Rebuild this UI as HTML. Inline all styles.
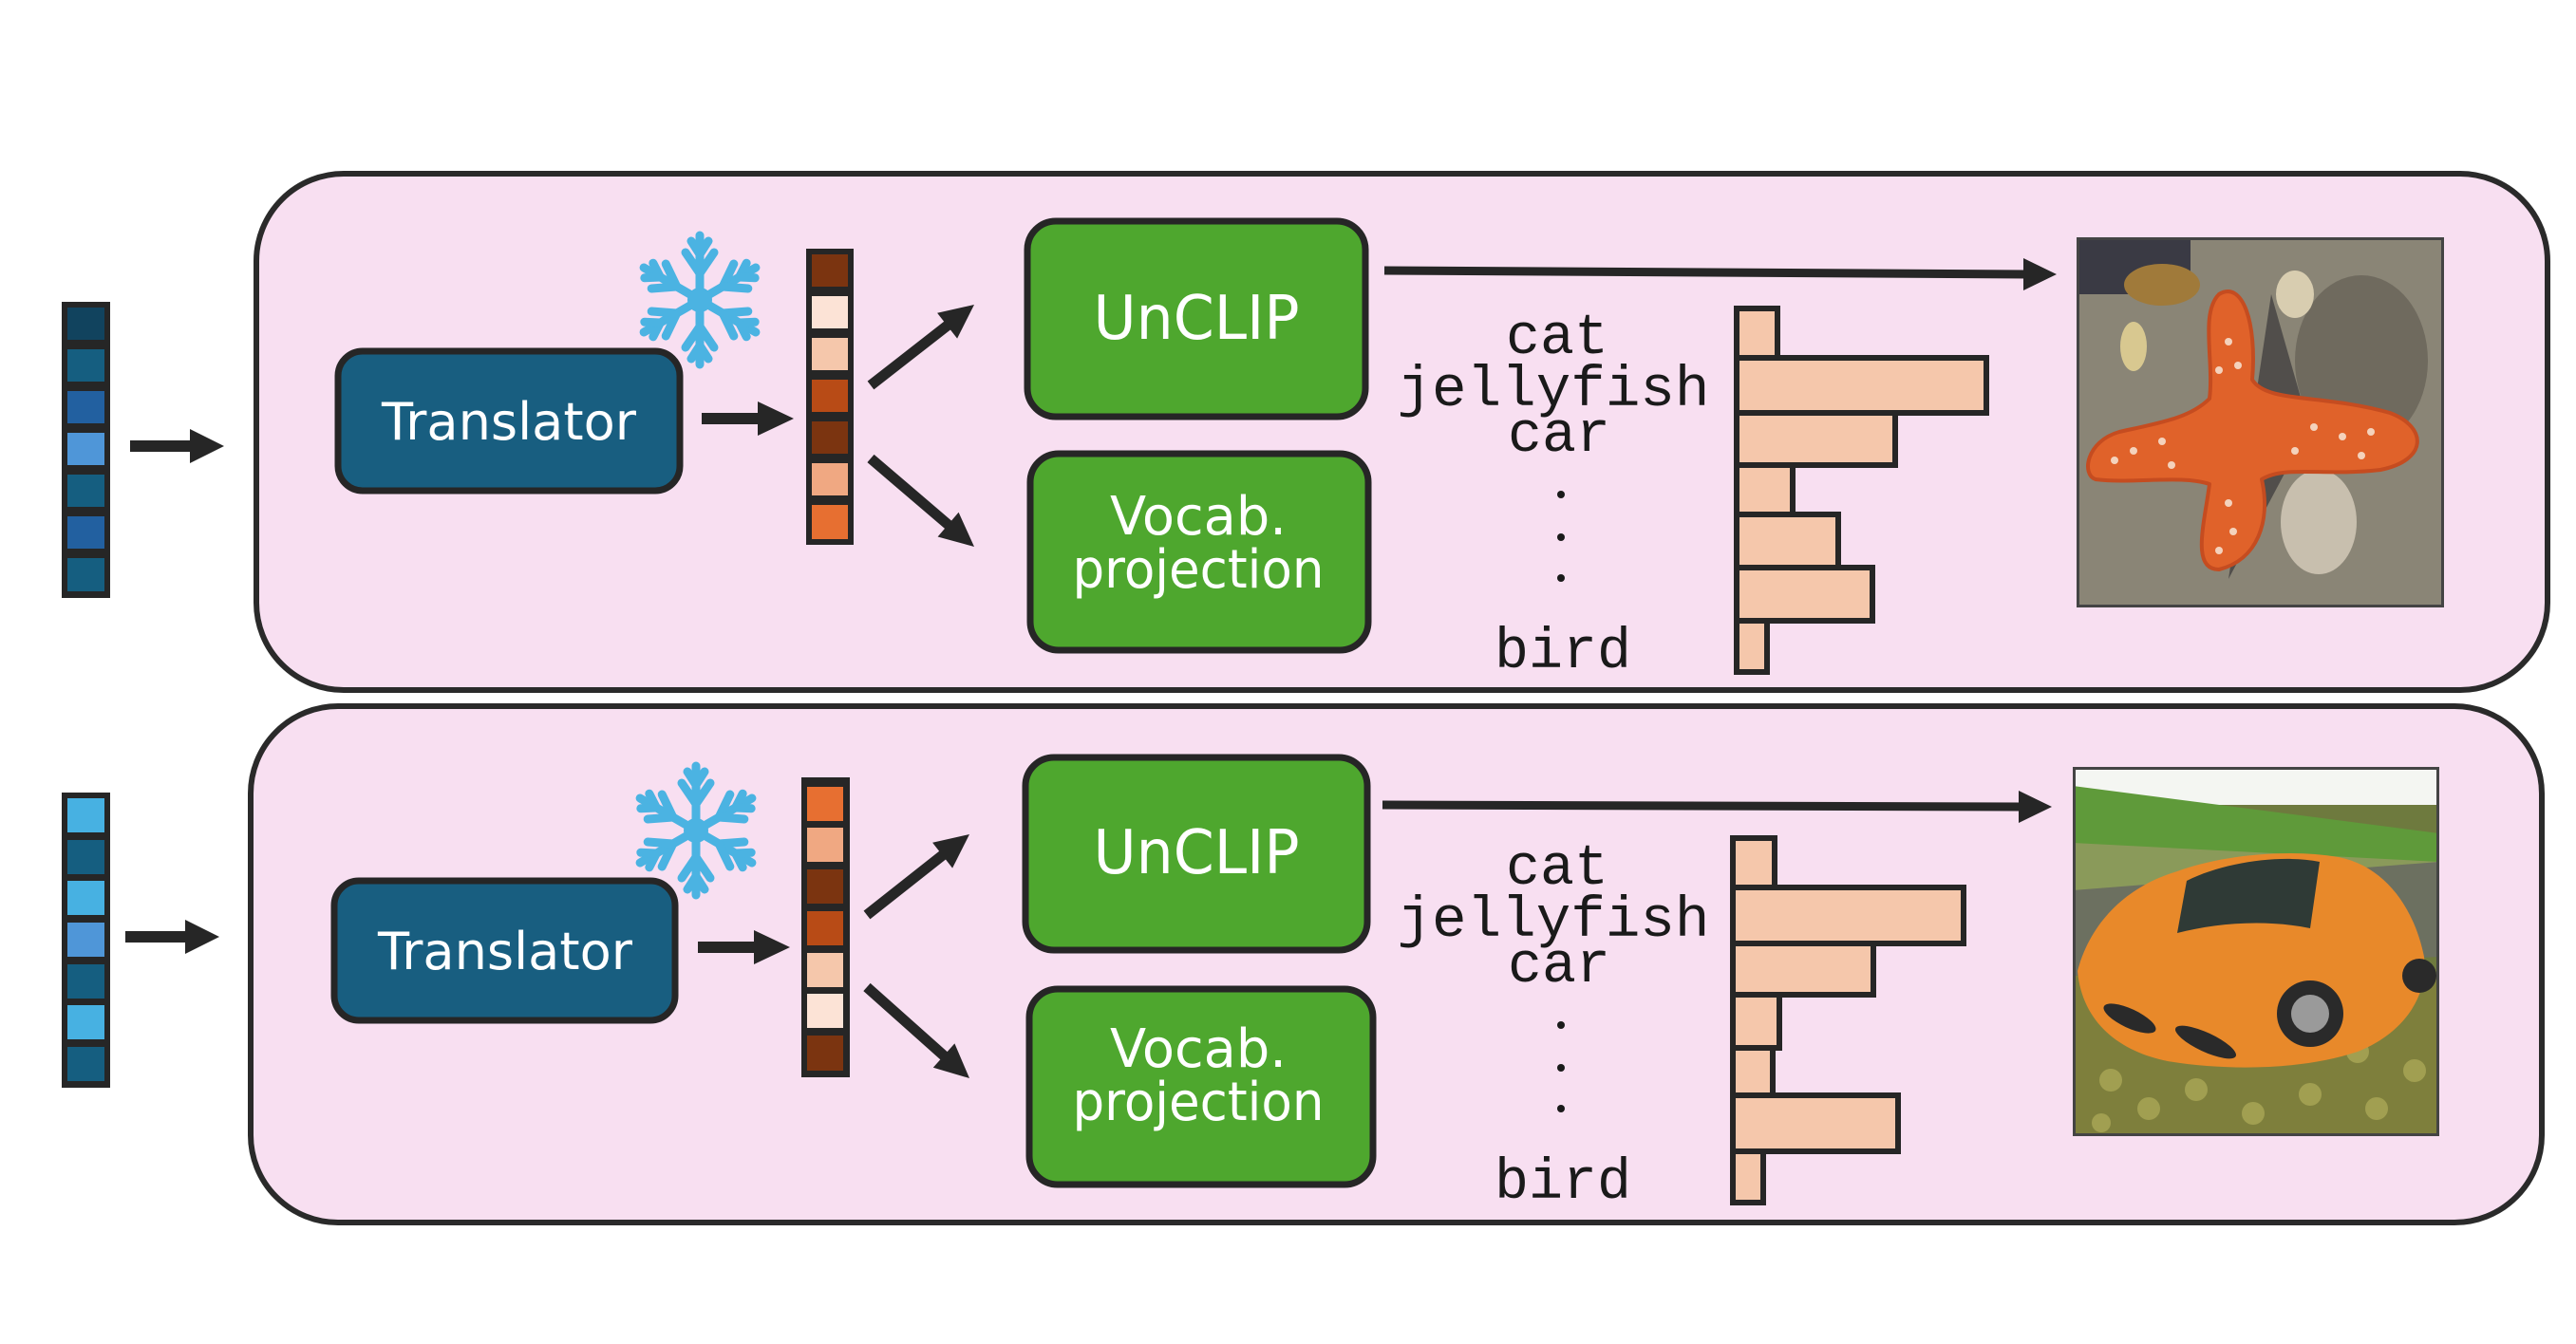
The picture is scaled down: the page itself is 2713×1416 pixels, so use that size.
<!DOCTYPE html>
<html><head><meta charset="utf-8"><style>
html,body{margin:0;padding:0;background:#fff;}
svg{display:block;}
.hw{font-family:"DejaVu Sans","Liberation Sans",sans-serif;fill:#fff;}
.mono{font-family:"Liberation Mono",monospace;fill:#1a1a1a;font-size:60px;}
</style></head><body>
<svg width="2713" height="1416" viewBox="0 0 2713 1416" xmlns="http://www.w3.org/2000/svg">
<defs>
<g id="snow" stroke="#4bb3e2" stroke-width="9" stroke-linecap="round" fill="none">
<g id="arm"><line x1="0" y1="0" x2="0" y2="-68"/><line x1="0" y1="-28" x2="-15" y2="-50"/><line x1="0" y1="-28" x2="15" y2="-50"/><line x1="0" y1="-48" x2="-9" y2="-62"/><line x1="0" y1="-48" x2="9" y2="-62"/></g>
<use href="#arm" transform="rotate(60)"/><use href="#arm" transform="rotate(120)"/><use href="#arm" transform="rotate(180)"/><use href="#arm" transform="rotate(240)"/><use href="#arm" transform="rotate(300)"/>
<circle r="13" fill="#4bb3e2" stroke="none"/>
</g>
</defs>

<rect x="270" y="183" width="2413" height="544" rx="92" fill="#f8dff1" stroke="#2a2a2a" stroke-width="6"/>
<rect x="264" y="744" width="2413" height="544" rx="92" fill="#f8dff1" stroke="#2a2a2a" stroke-width="6"/>

<g fill="#262626">
<!-- horizontal arrows -->
<rect x="137" y="464" width="70" height="12"/><polygon points="200,452 236,470 200,488"/>
<rect x="739" y="435" width="64" height="12"/><polygon points="798,423 836,441 798,459"/>
<rect x="132" y="981" width="70" height="12"/><polygon points="195,969 231,987 195,1005"/>
<rect x="735" y="992" width="64" height="12"/><polygon points="794,980 832,998 794,1016"/>
<!-- diagonals -->
<polygon points="1026,321 1008.1,356.6 987.1,329.8"/>
<polygon points="1026,576 987.6,565.5 1009.6,539.7"/>
<polygon points="1021,879 1003.1,914.6 982.1,887.8"/>
<polygon points="1021,1136 982.8,1124.8 1005.4,1099.4"/>
<!-- long -->
<polygon points="2131,272 2166,289 2131,306"/>
<polygon points="2126,833 2161,850 2126,867"/>
</g>
<g stroke="#262626" stroke-width="11">
<line x1="917" y1="406" x2="999" y2="342"/>
<line x1="917" y1="483" x2="1000" y2="554"/>
<line x1="913" y1="964" x2="994" y2="900"/>
<line x1="913" y1="1040" x2="996" y2="1114"/>
</g>
<g stroke="#262626" stroke-width="9">
<line x1="1458" y1="285" x2="2135" y2="289"/>
<line x1="1456" y1="848" x2="2130" y2="850"/>
</g>

<!-- ===== TOP ===== -->
<rect x="65" y="318" width="51" height="312" fill="#262626"/>
<rect x="71" y="324" width="39" height="34" fill="#11435e"/>
<rect x="71" y="368" width="39" height="34" fill="#155e80"/>
<rect x="71" y="412" width="39" height="34" fill="#2260a0"/>
<rect x="71" y="456" width="39" height="34" fill="#4f96d8"/>
<rect x="71" y="500" width="39" height="34" fill="#155e80"/>
<rect x="71" y="544" width="39" height="34" fill="#2260a0"/>
<rect x="71" y="588" width="39" height="35" fill="#155e80"/>

<rect x="356" y="370" width="360" height="147" rx="26" fill="#185e80" stroke="#262626" stroke-width="7"/>
<text class="hw" x="536" y="463" font-size="54" text-anchor="middle" textLength="268" lengthAdjust="spacingAndGlyphs">Translator</text>
<use href="#snow" transform="translate(737,316)"/>

<rect x="849" y="262" width="50" height="312" fill="#262626"/>
<rect x="855" y="268" width="38" height="34" fill="#7b3410"/>
<rect x="855" y="312" width="38" height="34" fill="#fce3d6"/>
<rect x="855" y="356" width="38" height="34" fill="#f5c7ab"/>
<rect x="855" y="400" width="38" height="34" fill="#b84b16"/>
<rect x="855" y="444" width="38" height="34" fill="#7b3410"/>
<rect x="855" y="488" width="38" height="34" fill="#f0a882"/>
<rect x="855" y="532" width="38" height="36" fill="#e76f31"/>

<rect x="1082" y="233" width="356" height="206" rx="30" fill="#4ea72e" stroke="#262626" stroke-width="7"/>
<text class="hw" x="1260" y="357" font-size="64" text-anchor="middle" textLength="217" lengthAdjust="spacingAndGlyphs">UnCLIP</text>
<rect x="1085" y="478" width="356" height="207" rx="30" fill="#4ea72e" stroke="#262626" stroke-width="7"/>
<text class="hw" x="1262" y="563" font-size="56" text-anchor="middle" textLength="186" lengthAdjust="spacingAndGlyphs">Vocab.</text>
<text class="hw" x="1262" y="619" font-size="56" text-anchor="middle" textLength="265" lengthAdjust="spacingAndGlyphs">projection</text>

<text class="mono" x="1640" y="372" text-anchor="middle">cat</text>
<text class="mono" x="1636" y="427" text-anchor="middle" textLength="329" lengthAdjust="spacingAndGlyphs">jellyfish</text>
<text class="mono" x="1642" y="475" text-anchor="middle">car</text>
<circle cx="1644" cy="521" r="4" fill="#1a1a1a"/><circle cx="1644" cy="566" r="4" fill="#1a1a1a"/><circle cx="1644" cy="609" r="4" fill="#1a1a1a"/>
<text class="mono" x="1646" y="703" text-anchor="middle">bird</text>

<g fill="#f5c7ab" stroke="#262626" stroke-width="6">
<rect x="1829" y="325" width="43" height="52"/>
<rect x="1829" y="377" width="263" height="58"/>
<rect x="1829" y="435" width="167" height="55"/>
<rect x="1829" y="490" width="59" height="52"/>
<rect x="1829" y="542" width="107" height="56"/>
<rect x="1829" y="598" width="143" height="56"/>
<rect x="1829" y="654" width="32" height="54"/>
</g>

<svg x="2187" y="250" width="387" height="390" viewBox="0 0 387 390">
<rect width="387" height="390" fill="#8a8576"/>
<rect x="0" y="0" width="120" height="60" fill="#3a3a44"/>
<ellipse cx="90" cy="50" rx="40" ry="22" fill="#a07a3a"/>
<ellipse cx="300" cy="130" rx="70" ry="90" fill="#6f6a5e"/>
<ellipse cx="230" cy="60" rx="20" ry="25" fill="#d8cdb0"/>
<ellipse cx="60" cy="115" rx="14" ry="26" fill="#d8c890"/>
<ellipse cx="255" cy="300" rx="40" ry="55" fill="#c8bfae"/>
<path d="M205,60 L245,200 L160,360 Z" fill="#2c2a2e" opacity="0.6"/>
<g fill="#e0622a" stroke="#c54c20" stroke-width="4" stroke-linejoin="round">
<path d="M150,60 C175,45 190,90 185,150 C200,175 260,165 330,185 C370,200 370,235 320,245 C260,252 220,240 195,255 C205,300 190,340 150,350 C120,350 135,300 140,260 C110,250 60,260 20,255 C5,250 10,215 45,205 C90,195 120,190 140,170 C145,130 130,80 150,60 Z"/>
</g>
<g fill="#f8e6d6" opacity="0.85">
<circle cx="160" cy="110" r="4"/><circle cx="170" cy="135" r="4"/><circle cx="150" cy="140" r="4"/><circle cx="250" cy="200" r="4"/><circle cx="280" cy="210" r="4"/><circle cx="310" cy="205" r="4"/><circle cx="300" cy="230" r="4"/><circle cx="60" cy="225" r="4"/><circle cx="90" cy="215" r="4"/><circle cx="100" cy="240" r="4"/><circle cx="160" cy="280" r="4"/><circle cx="165" cy="310" r="4"/><circle cx="150" cy="330" r="4"/><circle cx="40" cy="235" r="4"/><circle cx="230" cy="225" r="4"/>
</g>
<rect x="1.5" y="1.5" width="384" height="387" fill="none" stroke="#444" stroke-width="3"/>
</svg>

<!-- ===== BOTTOM ===== -->
<rect x="65" y="835" width="51" height="311" fill="#262626"/>
<rect x="71" y="841" width="39" height="36" fill="#47b1e2"/>
<rect x="71" y="885" width="39" height="36" fill="#155e80"/>
<rect x="71" y="928" width="39" height="36" fill="#47b1e2"/>
<rect x="71" y="972" width="39" height="36" fill="#4f96d8"/>
<rect x="71" y="1016" width="39" height="36" fill="#155e80"/>
<rect x="71" y="1059" width="39" height="36" fill="#47b1e2"/>
<rect x="71" y="1103" width="39" height="36" fill="#155e80"/>

<rect x="352" y="928" width="359" height="147" rx="26" fill="#185e80" stroke="#262626" stroke-width="7"/>
<text class="hw" x="532" y="1021" font-size="54" text-anchor="middle" textLength="268" lengthAdjust="spacingAndGlyphs">Translator</text>
<use href="#snow" transform="translate(733,875)"/>

<rect x="844" y="819" width="51" height="316" fill="#262626"/>
<rect x="850" y="829" width="38" height="36" fill="#e76f31"/>
<rect x="850" y="872" width="38" height="36" fill="#f0a882"/>
<rect x="850" y="916" width="38" height="36" fill="#7b3410"/>
<rect x="850" y="960" width="38" height="36" fill="#b84b16"/>
<rect x="850" y="1004" width="38" height="36" fill="#f5c7ab"/>
<rect x="850" y="1047" width="38" height="36" fill="#fce3d6"/>
<rect x="850" y="1091" width="38" height="37" fill="#7b3410"/>

<rect x="1080" y="798" width="360" height="203" rx="30" fill="#4ea72e" stroke="#262626" stroke-width="7"/>
<text class="hw" x="1260" y="920" font-size="64" text-anchor="middle" textLength="217" lengthAdjust="spacingAndGlyphs">UnCLIP</text>
<rect x="1084" y="1042" width="362" height="206" rx="30" fill="#4ea72e" stroke="#262626" stroke-width="7"/>
<text class="hw" x="1262" y="1124" font-size="56" text-anchor="middle" textLength="186" lengthAdjust="spacingAndGlyphs">Vocab.</text>
<text class="hw" x="1262" y="1180" font-size="56" text-anchor="middle" textLength="265" lengthAdjust="spacingAndGlyphs">projection</text>

<text class="mono" x="1640" y="931" text-anchor="middle">cat</text>
<text class="mono" x="1636" y="986" text-anchor="middle" textLength="329" lengthAdjust="spacingAndGlyphs">jellyfish</text>
<text class="mono" x="1642" y="1034" text-anchor="middle">car</text>
<circle cx="1644" cy="1080" r="4" fill="#1a1a1a"/><circle cx="1644" cy="1125" r="4" fill="#1a1a1a"/><circle cx="1644" cy="1168" r="4" fill="#1a1a1a"/>
<text class="mono" x="1646" y="1262" text-anchor="middle">bird</text>

<g fill="#f5c7ab" stroke="#262626" stroke-width="6">
<rect x="1825" y="883" width="44" height="52"/>
<rect x="1825" y="935" width="243" height="59"/>
<rect x="1825" y="994" width="148" height="54"/>
<rect x="1825" y="1048" width="49" height="56"/>
<rect x="1825" y="1104" width="42" height="50"/>
<rect x="1825" y="1154" width="174" height="59"/>
<rect x="1825" y="1213" width="32" height="54"/>
</g>

<svg x="2183" y="808" width="386" height="389" viewBox="0 0 386 389">
<rect width="386" height="389" fill="#6e7a3e"/>
<rect width="386" height="40" fill="#f4f6f2"/>
<path d="M0,20 L386,70 L386,110 L0,90 Z" fill="#5f9a3a"/>
<path d="M0,80 L386,100 L386,140 L0,130 Z" fill="#8a9a5a"/>
<path d="M0,130 L386,100 L386,200 L0,220 Z" fill="#6c7060"/>
<rect x="0" y="220" width="386" height="169" fill="#7e7f3c"/>
<g fill="#b0ad5a" opacity="0.7">
<circle cx="40" cy="330" r="12"/><circle cx="80" cy="360" r="12"/><circle cx="130" cy="340" r="12"/><circle cx="190" cy="365" r="12"/><circle cx="250" cy="345" r="12"/><circle cx="320" cy="360" r="12"/><circle cx="360" cy="320" r="12"/><circle cx="300" cy="300" r="12"/><circle cx="30" cy="375" r="10"/>
</g>
<path d="M5,215 C20,160 60,125 110,110 C150,95 220,85 280,95 C330,105 360,150 370,200 C375,240 350,280 300,300 C240,320 160,320 100,310 C50,300 10,270 5,215 Z" fill="#e8892a"/>
<path d="M120,120 C160,100 220,92 260,100 L250,170 C200,160 150,165 110,175 Z" fill="#2f3a36"/>
<circle cx="250" cy="260" r="35" fill="#2a2a2a"/><circle cx="250" cy="260" r="20" fill="#9a9a9a"/>
<circle cx="365" cy="220" r="18" fill="#2a2a2a"/>
<ellipse cx="60" cy="265" rx="30" ry="10" fill="#2a2a2a" transform="rotate(25 60 265)"/>
<ellipse cx="140" cy="290" rx="35" ry="10" fill="#2a2a2a" transform="rotate(25 140 290)"/>
<rect x="1.5" y="1.5" width="383" height="386" fill="none" stroke="#444" stroke-width="3"/>
</svg>
</svg>
</body></html>
